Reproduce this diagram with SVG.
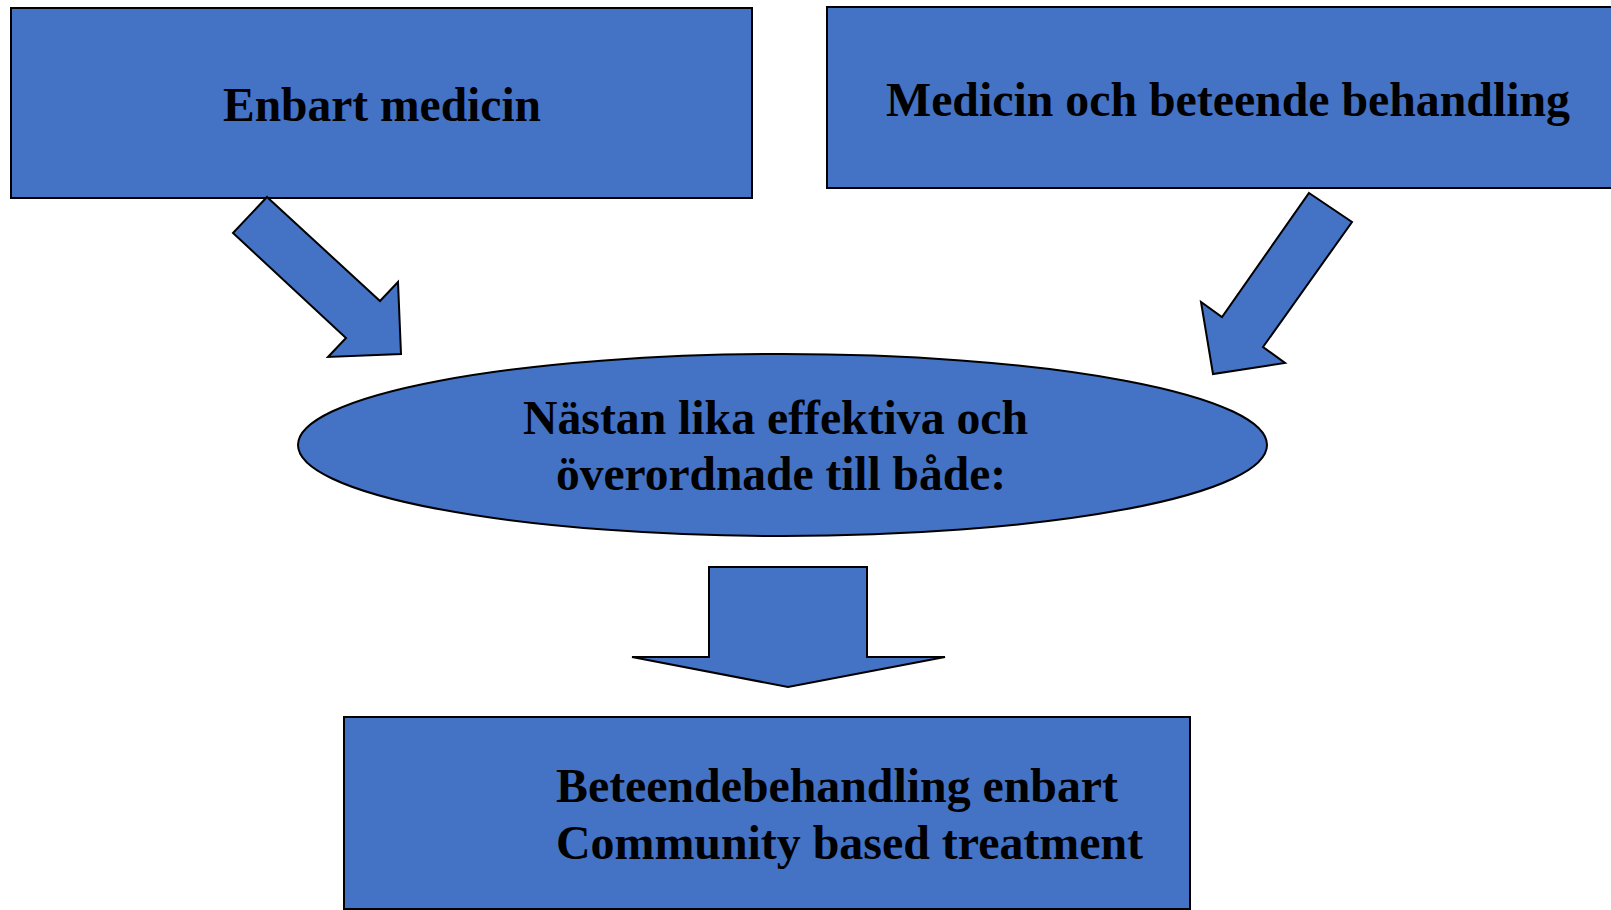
<svg xmlns="http://www.w3.org/2000/svg" width="1611" height="910" viewBox="0 0 1611 910">
  <style>
    .shape { fill: #4472C4; stroke: #000; stroke-width: 2; stroke-linejoin: miter; }
    .lbl { font-family: "Liberation Serif", "Times New Roman", serif; font-weight: bold; fill: #000; font-size: 48px; }
  </style>
  <rect width="1611" height="910" fill="#ffffff"/>
  <g id="node-enbart-medicin">
    <rect class="shape" x="11" y="8" width="741" height="190"/>
    <text class="lbl" x="223" y="121" textLength="318" lengthAdjust="spacingAndGlyphs">Enbart medicin</text>
  </g>
  <g id="node-medicin-och-beteende">
    <rect class="shape" x="827" y="7" width="802" height="181"/>
    <text class="lbl" x="886" y="116" textLength="684" lengthAdjust="spacingAndGlyphs">Medicin och beteende behandling</text>
  </g>
  <g id="node-nastan-lika">
    <ellipse class="shape" cx="782.5" cy="445" rx="484.5" ry="91"/>
    <text class="lbl" x="523" y="434" textLength="505" lengthAdjust="spacingAndGlyphs">Nästan lika effektiva och</text>
    <text class="lbl" x="556" y="490" textLength="450" lengthAdjust="spacingAndGlyphs">överordnade till både:</text>
  </g>
  <g id="node-beteendebehandling">
    <rect class="shape" x="344" y="717" width="846" height="192"/>
    <text class="lbl" x="556" y="802" textLength="562" lengthAdjust="spacingAndGlyphs">Beteendebehandling enbart</text>
    <text class="lbl" x="556" y="859" textLength="587" lengthAdjust="spacingAndGlyphs">Community based treatment</text>
  </g>
  <g id="connectors">
    <polygon class="shape" points="267,197 380,301 398,282 401,354 328,357 346,338 233,233"/>
    <polygon class="shape" points="1309,193 1352,222 1263,347 1285,363 1213,374 1201,302 1222,317"/>
    <polygon class="shape" points="709,567 867,567 867,657 945,657 788,687 632,657 709,657"/>
  </g>
</svg>
